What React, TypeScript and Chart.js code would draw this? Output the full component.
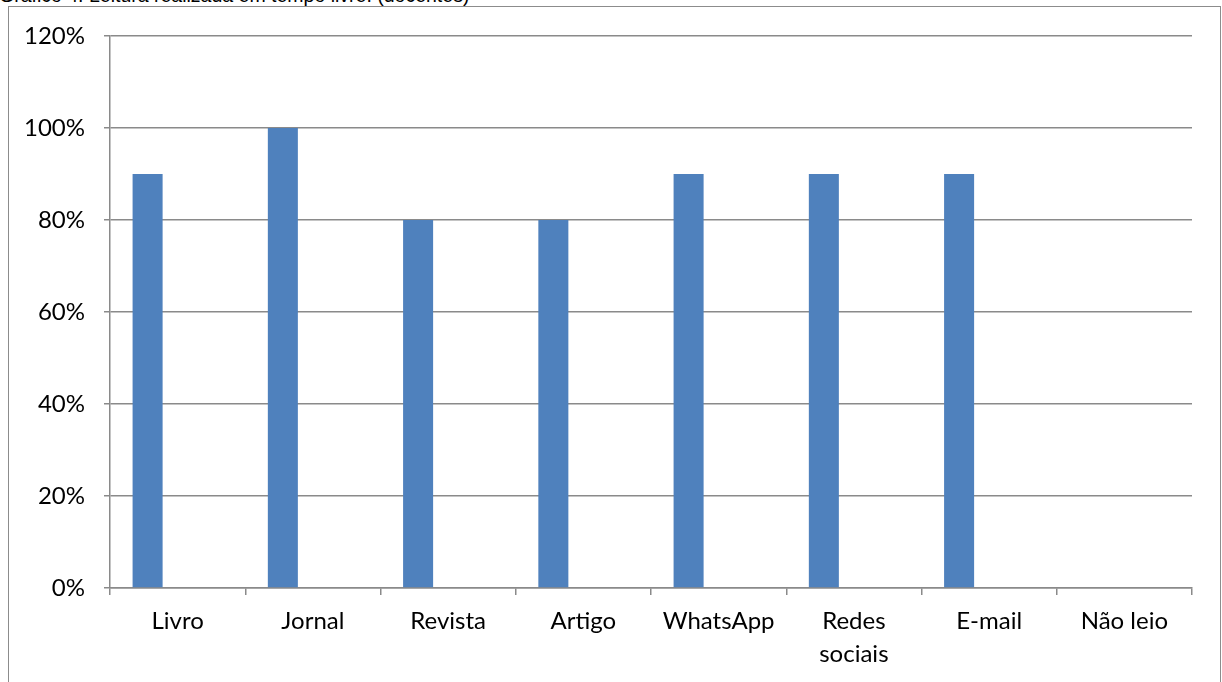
import React, { useEffect, useRef } from "react";
import { Chart, registerables } from "chart.js";

Chart.register(...registerables);

const categories: (string | string[])[] = [
  "Livro",
  "Jornal",
  "Revista",
  "Artigo",
  "WhatsApp",
  ["Redes", "sociais"],
  "E-mail",
  "Não leio",
];

// Share of teachers (%) reading each medium in their free time
const leituraValues: (number | null)[] = [90, 100, 80, 80, 90, 90, 90, 0];
// Two further series of the same sheet are empty
const emptySeriesA: (number | null)[] = [null, null, null, null, null, null, null, null];
const emptySeriesB: (number | null)[] = [null, null, null, null, null, null, null, null];

const yTicks: number[] = [0, 20, 40, 60, 80, 100, 120];

const titleText = "Gráfico 4: Leitura realizada em tempo livre: (docentes)";

const FONT = "Lato, 'Open Sans', sans-serif";
const GRID = "#8a8a8a";

export default function App() {
  const canvasRef = useRef<HTMLCanvasElement | null>(null);

  useEffect(() => {
    const canvas = canvasRef.current;
    if (!canvas) return;
    const chart = new Chart(canvas, {
      type: "bar",
      data: {
        labels: categories,
        datasets: [
          {
            label: "Leitura",
            data: leituraValues,
            backgroundColor: "#4F81BD",
            borderWidth: 0,
            barPercentage: 1,
            categoryPercentage: 0.666,
          },
          {
            label: "Série 2",
            data: emptySeriesA,
            backgroundColor: "#C0504D",
            borderWidth: 0,
            barPercentage: 1,
            categoryPercentage: 0.666,
          },
          {
            label: "Série 3",
            data: emptySeriesB,
            backgroundColor: "#9BBB59",
            borderWidth: 0,
            barPercentage: 1,
            categoryPercentage: 0.666,
          },
        ],
      },
      options: {
        responsive: false,
        animation: false,
        devicePixelRatio: 1,
        layout: { padding: { left: 0, right: 30, top: 36, bottom: 0 } },
        plugins: {
          legend: { display: false },
          title: { display: false },
          tooltip: { enabled: false },
        },
        scales: {
          x: {
            offset: true,
            grid: {
              offset: true,
              drawOnChartArea: false,
              drawTicks: true,
              tickLength: 7,
              color: GRID,
              lineWidth: 1.5,
            },
            border: { display: true, color: GRID, width: 1.5 },
            ticks: {
              color: "#000",
              font: { family: FONT, size: 24, lineHeight: 1.375 },
              padding: 10,
              maxRotation: 0,
              autoSkip: false,
            },
            afterFit: (scale: any) => {
              scale.height = 682 - 588;
            },
          },
          y: {
            min: 0,
            max: 120,
            afterBuildTicks: (scale: any) => {
              scale.ticks = yTicks.map((v) => ({ value: v }));
            },
            grid: {
              color: GRID,
              lineWidth: 1.5,
              drawTicks: true,
              tickLength: 6,
            },
            border: { display: true, color: GRID, width: 1.5 },
            ticks: {
              color: "#000",
              font: { family: FONT, size: 24 },
              padding: 19,
              callback: (v: any) => `${v}%`,
            },
            afterFit: (scale: any) => {
              scale.width = 110;
            },
          },
        },
      },
    });
    return () => chart.destroy();
  }, []);

  return (
    <div
      style={{
        position: "absolute",
        left: 0,
        top: 0,
        width: 1222,
        height: 682,
        overflow: "hidden",
        background: "#fff",
      }}
    >
      <div
        style={{
          position: "absolute",
          left: -1,
          top: -14,
          fontFamily: "'Liberation Sans', Arial, sans-serif",
          fontSize: 19.5,
          lineHeight: "19.5px",
          whiteSpace: "nowrap",
          color: "#000",
        }}
      >
        {titleText}
      </div>
      <div
        style={{
          position: "absolute",
          left: 8,
          top: 6,
          width: 1211,
          height: 720,
          border: "1.5px solid #8c8c8c",
        }}
      />
      <canvas
        ref={canvasRef}
        width={1222}
        height={682}
        style={{ position: "absolute", left: 0, top: 0, width: 1222, height: 682 }}
      />
    </div>
  );
}
